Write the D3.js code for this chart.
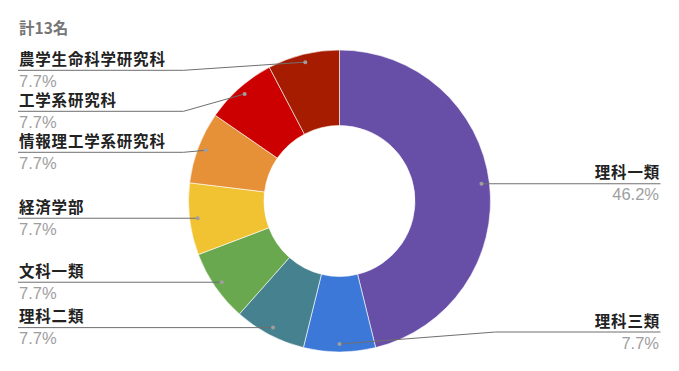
<!DOCTYPE html>
<html>
<head>
<meta charset="utf-8">
<script src="https://cdn.jsdelivr.net/npm/d3@7"></script>
<style>
  html, body { margin: 0; padding: 0; background: #fff; }
  svg { display: block; }
</style>
</head>
<body>
<svg id="chart" width="679" height="371"></svg>
<script>
const title = "計13名";
const categories = ["理科一類", "理科三類", "理科二類", "文科一類", "経済学部", "情報理工学系研究科", "工学系研究科", "農学生命科学研究科"];
const values = [6, 1, 1, 1, 1, 1, 1, 1];
const colors = ["#674ea7", "#3c78d8", "#45818e", "#6aa84f", "#f1c232", "#e69138", "#cc0000", "#a61c00"];

const W = 679, H = 371;
const cx = 339.5, cy = 201, R = 151, r0 = 75.5;
const svg = d3.select("#chart");
const cjk = "'Noto Sans CJK JP', 'Noto Sans', sans-serif";
const latin = "Arial, 'Liberation Sans', sans-serif";

svg.append("text")
  .attr("x", 19).attr("y", 34)
  .attr("font-family", cjk)
  .attr("font-size", 15.5).attr("font-weight", "bold")
  .attr("fill", "#757575")
  .text(title);

const total = d3.sum(values);
const data = categories.map((c, i) => ({ name: c, value: values[i], color: colors[i] }));
const pie = d3.pie().value(d => d.value).sort(null);
const arcs = pie(data);
const arc = d3.arc().innerRadius(r0).outerRadius(R);

const g = svg.append("g").attr("transform", `translate(${cx},${cy})`);
g.selectAll("path").data(arcs).join("path")
  .attr("d", arc)
  .attr("fill", d => d.data.color)
  .attr("stroke", "#fff").attr("stroke-width", 0.6);

// label layout
const dotR = R * 0.947;
const items = arcs.map(a => {
  const m = (a.startAngle + a.endAngle) / 2;
  const x = cx + dotR * Math.sin(m), y = cy - dotR * Math.cos(m);
  return { a, x, y, side: x >= cx - 0.5 ? "right" : "left", ly: y,
    pct: d3.format(".1f")(a.data.value / total * 100) + "%" };
});
const minY = 70.3, maxY = 332, gap = 41;
["left", "right"].forEach(side => {
  const s = items.filter(d => d.side === side).sort((p, q) => p.y - q.y);
  s.forEach(d => d.ly = Math.max(minY, Math.min(maxY, d.y)));
  for (let i = 1; i < s.length; i++) s[i].ly = Math.max(s[i].ly, s[i - 1].ly + gap);
  for (let i = s.length - 1; i >= 0; i--) {
    if (s[i].ly > maxY) s[i].ly = maxY;
    if (i < s.length - 1 && s[i].ly > s[i + 1].ly - gap) s[i].ly = s[i + 1].ly - gap;
  }
});

const lg = svg.append("g");
items.forEach(d => {
  const left = d.side === "left";
  const endX = left ? 18 : 660.5;
  const bendX = left ? cx - R - 5 : cx + R + 5;
  const pts = Math.abs(d.ly - d.y) < 0.8 ? [[d.x, d.ly], [endX, d.ly]] : [[d.x, d.y], [bendX, d.ly], [endX, d.ly]];
  lg.append("path")
    .attr("d", d3.line()(pts))
    .attr("fill", "none").attr("stroke", "#6f6f6f").attr("stroke-width", 1);
  lg.append("circle").attr("cx", d.x).attr("cy", d.y).attr("r", 2).attr("fill", "#9e9e9e");
  lg.append("text")
    .attr("x", left ? 19 : 660).attr("y", d.ly - 5.5)
    .attr("text-anchor", left ? "start" : "end")
    .attr("font-family", cjk).attr("font-size", 15.5)
    .attr("font-weight", "bold")
    .attr("letter-spacing", 0.8)
    .attr("fill", "#222")
    .text(d.a.data.name);
  lg.append("text")
    .attr("x", left ? 19 : 659).attr("y", d.ly + 16.5)
    .attr("text-anchor", left ? "start" : "end")
    .attr("font-family", latin).attr("font-size", 16.5)
    .attr("fill", "#9e9e9e")
    .text(d.pct);
});
</script>
</body>
</html>
